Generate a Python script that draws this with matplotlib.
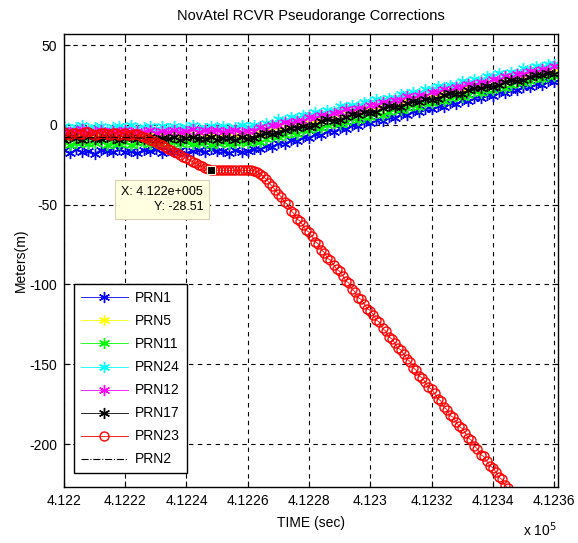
import numpy as np
import matplotlib
matplotlib.use("Agg")
import matplotlib.pyplot as plt
from matplotlib.ticker import FuncFormatter, MultipleLocator

plt.rcParams["font.family"] = ["Liberation Sans", "DejaVu Sans"]
plt.rcParams["axes.unicode_minus"] = False

# GPS time of week (s), one sample every 2 s
TIME = np.arange(412200, 412361, 2)
# PRN23 is logged every second
TIME_PRN23 = np.arange(412200, 412351, 1)

# pseudorange corrections per satellite (m)
PRN1 = [-16.0, -17.8, -15.2, -16.9, -16.1, -18.0, -15.6, -16.4, -17.3, -14.9,
        -16.8, -16.2, -17.7, -15.8, -16.6, -15.3, -17.4, -16.0, -16.9, -15.5,
        -17.9, -16.3, -15.9, -17.2, -15.4, -16.7, -16.1, -17.8, -15.7, -17.0,
        -16.2, -15.0, -15.3, -13.0, -13.6, -11.4, -11.8, -9.6, -10.0, -7.6,
        -8.0, -5.9, -6.3, -3.9, -4.4, -2.2, -2.6, -0.3, -0.8, 1.5,
        1.0, 3.2, 2.7, 4.9, 4.4, 6.7, 6.1, 8.4, 7.9, 10.1,
        9.6, 11.8, 11.3, 13.6, 13.0, 15.3, 14.8, 17.0, 16.5, 18.7,
        18.2, 20.4, 19.9, 22.1, 21.6, 23.9, 23.4, 25.6, 25.1, 27.3,
        26.8]
PRN5 = [-5.6, -6.9, -5.0, -6.3, -5.4, -7.2, -5.8, -5.2, -6.6, -6.1,
        -5.5, -6.8, -5.1, -6.4, -5.7, -7.0, -5.9, -5.3, -6.5, -6.0,
        -5.6, -6.9, -5.0, -6.3, -5.4, -7.1, -5.8, -5.2, -6.6, -6.2,
        -5.7, -4.8, -5.3, -2.6, -3.1, -1.4, -2.4, -0.2, 1.2, 0.6,
        1.9, 3.2, 2.7, 5.4, 4.9, 6.6, 5.6, 7.8, 9.2, 8.6,
        9.9, 11.2, 10.7, 13.4, 12.9, 14.6, 13.6, 15.8, 17.2, 16.6,
        17.9, 19.2, 18.7, 21.4, 20.9, 22.6, 21.6, 23.8, 25.2, 24.6,
        25.9, 27.2, 26.7, 29.4, 28.9, 30.6, 29.6, 31.8, 33.2, 32.6,
        33.9]
PRN11 = [-10.8, -12.5, -11.4, -10.6, -12.1, -11.7, -10.3, -12.4, -11.1, -11.9,
         -10.9, -12.6, -11.3, -10.5, -12.0, -11.6, -10.4, -12.3, -11.0, -11.8,
         -10.7, -12.2, -11.5, -10.6, -12.4, -11.2, -10.8, -12.0, -11.4, -10.9,
         -11.7, -10.0, -10.8, -8.9, -7.2, -7.9, -6.6, -4.4, -5.6, -3.5,
         -3.4, -1.5, -2.3, -0.4, 1.3, 0.7, 1.9, 4.2, 2.9, 5.1,
         5.1, 7.1, 6.2, 8.2, 9.8, 9.2, 10.4, 12.7, 11.4, 13.6,
         13.6, 15.6, 14.7, 16.7, 18.3, 17.7, 18.9, 21.2, 19.9, 22.1,
         22.1, 24.1, 23.2, 25.2, 26.8, 26.2, 27.4, 29.7, 28.4, 30.6,
         30.6]
PRN24 = [-0.8, -2.4, -1.1, -0.3, -2.0, -1.6, -0.6, -2.6, -1.2, -0.9,
         -1.9, -0.4, -2.2, -1.4, -0.7, -2.5, -1.0, -1.8, -0.5, -2.1,
         -1.3, -0.2, -1.7, -2.3, -0.9, -1.5, -0.6, -2.0, -1.1, -0.4,
         -1.6, 0.2, -0.5, 1.1, 0.7, 3.6, 3.0, 4.6, 4.1, 6.4,
         6.4, 8.2, 7.5, 9.1, 8.7, 11.6, 11.0, 12.6, 12.1, 14.4,
         14.4, 16.2, 15.5, 17.1, 16.7, 19.6, 19.0, 20.6, 20.1, 22.4,
         22.4, 24.2, 23.5, 25.1, 24.7, 27.6, 27.0, 28.6, 28.1, 30.4,
         30.4, 32.2, 31.5, 33.1, 32.7, 35.6, 35.0, 36.6, 36.1, 38.4,
         38.4]
PRN12 = [-3.4, -4.7, -3.9, -2.9, -4.5, -4.1, -3.2, -5.0, -3.7, -4.3,
         -3.0, -4.8, -3.6, -4.2, -3.1, -4.9, -3.8, -4.4, -3.3, -4.6,
         -4.0, -2.8, -4.5, -3.5, -4.1, -3.2, -4.7, -3.9, -3.4, -4.3,
         -3.7, -3.7, -1.6, -2.5, -0.4, -0.2, 1.8, 0.9, 2.7, 2.1,
         4.6, 4.3, 6.4, 5.5, 7.6, 7.8, 9.8, 8.9, 10.7, 10.1,
         12.6, 12.3, 14.4, 13.5, 15.6, 15.8, 17.8, 16.9, 18.7, 18.1,
         20.6, 20.3, 22.4, 21.5, 23.6, 23.8, 25.8, 24.9, 26.7, 26.1,
         28.6, 28.3, 30.4, 29.5, 31.6, 31.8, 33.8, 32.9, 34.7, 34.1,
         36.6]
PRN17 = [-9.2, -7.9, -8.1, -9.5, -7.6, -8.8, -9.0, -7.8, -8.4, -9.6,
         -8.0, -7.5, -9.1, -8.6, -7.7, -9.3, -8.2, -8.9, -7.4, -9.4,
         -8.3, -7.9, -9.0, -8.7, -7.6, -9.2, -8.5, -8.0, -9.5, -7.8,
         -8.6, -8.5, -6.2, -4.9, -5.7, -5.4, -3.2, -1.8, -2.1, -0.5,
         -1.1, -0.2, 2.1, 3.4, 2.6, 3.0, 5.1, 6.5, 6.2, 7.8,
         7.2, 8.1, 10.4, 11.7, 10.9, 11.3, 13.4, 14.8, 14.5, 16.1,
         15.5, 16.4, 18.7, 20.0, 19.2, 19.6, 21.7, 23.1, 22.8, 24.4,
         23.8, 24.7, 27.0, 28.3, 27.5, 27.9, 30.0, 31.4, 31.1, 32.7,
         32.1]
PRN23 = [-4.8, -5.6, -6.2, -5.1, -5.0, -6.0, -5.9, -4.7, -4.5, -5.8,
         -6.4, -5.5, -5.3, -4.9, -5.7, -6.3, -4.9, -5.2, -6.1, -5.6,
         -5.4, -6.2, -6.6, -5.8, -6.0,
         -6.7, -7.5, -8.3, -9.2, -10.1, -11.0, -11.9, -12.8, -13.8, -14.9,
         -15.8, -16.8, -17.9, -18.9, -20.0, -21.0, -22.1, -23.1, -24.2, -25.2,
         -26.1, -27.0, -27.8, -28.5,
         -28.6, -28.5, -28.4, -28.5, -28.4, -28.6, -28.5, -28.6, -28.5, -28.4,
         -28.5, -28.5, -28.6, -28.7,
         -29.4, -30.5, -32.1, -34.0, -36.2, -38.5, -40.9, -43.3,
         -45.3, -48.5, -49.9, -53.7, -55.4, -59.0, -60.1, -63.0, -65.9, -67.2,
         -69.9, -73.1, -74.5, -78.3, -80.0, -83.6, -84.7, -87.6, -90.5, -91.8,
         -94.5, -97.7, -99.1, -102.9, -104.6, -108.2, -109.3, -112.2, -115.1, -116.4,
         -119.1, -122.3, -123.7, -127.5, -129.2, -132.8, -133.9, -136.8, -139.7, -141.0,
         -143.7, -146.9, -148.3, -152.1, -153.8, -157.4, -158.5, -161.4, -164.3, -165.6,
         -168.3, -171.5, -172.9, -176.7, -178.4, -182.0, -183.1, -186.0, -188.9, -190.2,
         -192.9, -196.1, -197.5, -201.3, -203.0, -206.6, -207.7, -210.6, -213.5, -214.8,
         -217.5, -220.7, -222.1, -225.9, -227.6, -231.2, -232.3, -235.2, -238.1, -239.4]
PRN2 = [-8.1, -7.9, -8.2, -7.8, -8.0, -8.3, -7.9, -8.1, -7.7, -8.2,
        -8.0, -7.9, -8.3, -8.1, -7.8, -8.0, -8.2, -7.9, -8.1, -7.8,
        -8.2, -8.0, -7.9, -8.3, -8.1, -7.8, -8.0, -8.2, -7.9, -8.1,
        -8.0, -7.2, -6.4, -5.6, -4.8, -4.0, -3.1, -2.3, -1.5, -0.7,
        0.1, 0.9, 1.7, 2.5, 3.3, 4.2, 5.0, 5.8, 6.6, 7.4,
        8.2, 9.0, 9.8, 10.6, 11.4, 12.3, 13.1, 13.9, 14.7, 15.5,
        16.3, 17.1, 17.9, 18.7, 19.5, 20.4, 21.2, 22.0, 22.8, 23.6,
        24.4, 25.2, 26.0, 26.8, 27.6, 28.5, 29.3, 30.1, 30.9, 31.7,
        32.5]

# data cursor placed on PRN23
TIP_X = 412248
TIP_Y = -28.51

ASTERISK = (6, 2, 0)

fig = plt.figure(figsize=(5.78, 5.43), dpi=100)
ax = fig.add_axes([0.1107, 0.1031, 0.8547, 0.8343])

# plotting order follows the legend order (PRN2 ends up on top)
star_series = [
    ("PRN1", PRN1, "#0000ff"),
    ("PRN5", PRN5, "#ffff00"),
    ("PRN11", PRN11, "#00ff00"),
    ("PRN24", PRN24, "#00ffff"),
    ("PRN12", PRN12, "#ff00ff"),
    ("PRN17", PRN17, "#000000"),
]
for label, values, color in star_series:
    ax.plot(TIME, values, color=color, lw=0.6, marker=ASTERISK,
            ms=8, mew=1.0, label=label)

ax.plot(TIME_PRN23, PRN23, color="#ff0000", lw=0.6, marker="o", ms=6.5,
        mfc="none", mew=1.0, label="PRN23")
ax.plot(TIME, PRN2, color="#000000", lw=0.8, ls="-.", label="PRN2")

# data tip marker + label box
ax.plot([TIP_X], [TIP_Y], marker="s", ms=6, color="black", mec="#ffffe1",
        mew=0.8, ls="none", zorder=10)
ax.text(0.199, 0.634, f"X: {TIP_X / 1e5:.3f}e+005\nY: {TIP_Y:.2f}",
        transform=ax.transAxes, ha="center", va="center",
        multialignment="right", fontsize=9, zorder=11, linespacing=1.3,
        bbox=dict(boxstyle="square,pad=0.5", fc="#ffffe1", ec="#d8d0b0", lw=0.8))

ax.set_xlim(412200, 412361.3)
ax.set_ylim(-226.9, 56.9)
ax.xaxis.set_major_locator(MultipleLocator(20))
ax.yaxis.set_major_locator(MultipleLocator(50))
ax.xaxis.set_major_formatter(FuncFormatter(lambda v, _: f"{v / 1e5:g}"))

ax.grid(True, color="black", ls=(0, (4, 4)), lw=0.8)
ax.tick_params(direction="in", top=True, right=True, length=4, labelsize=10,
               width=0.8, pad=5)
for spine in ax.spines.values():
    spine.set_linewidth(1.0)

ax.set_title("NovAtel RCVR Pseudorange Corrections", fontsize=10.5, pad=10)
ax.set_xlabel("TIME (sec)", fontsize=10, labelpad=6)
ax.set_ylabel("Meters(m)", fontsize=10, labelpad=1)
fig.text(0.905, 0.012, r"x 10$^5$", fontsize=10, ha="left", va="baseline")

leg = ax.legend(loc="lower left", bbox_to_anchor=(0.02, 0.03),
                borderaxespad=0, fontsize=10, fancybox=False, framealpha=1,
                edgecolor="black", handlelength=3.4, handletextpad=0.5,
                labelspacing=0.65, borderpad=0.5)
leg.get_frame().set_linewidth(1.0)

fig.savefig("out.png", dpi=100)
